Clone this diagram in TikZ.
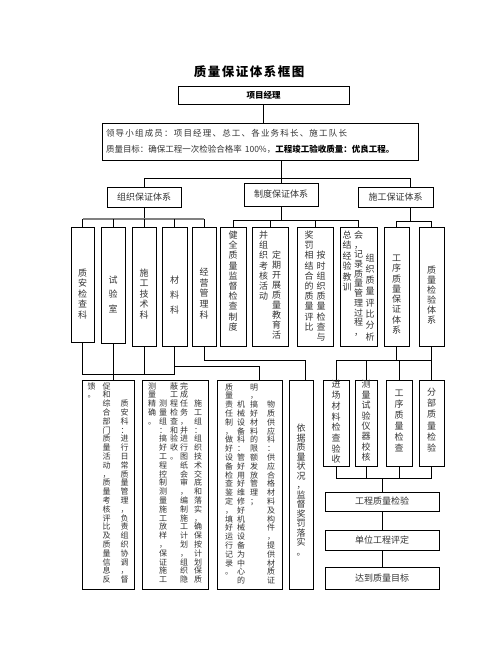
\documentclass[tikz,border=0pt]{standalone}
\usepackage{fontspec}
\setmainfont{Noto Sans CJK SC}
% one column of vertical text, one glyph per cell (~ gives an empty cell)
\newcommand\vstack[2][8.8pt]{\vtop{\baselineskip=#1\lineskiplimit=-\maxdimen\vstacknext#2\relax}}
\def\vstacknext#1{\ifx\relax#1\else\hbox to 1em{\hss\vrule height .88em depth .12em width 0pt#1\hss}\expandafter\vstacknext\fi}
% box content of height #1, text pushed down by #2 from the top
\newcommand\topfill[3]{\vbox to #1pt{\vskip#2pt\hbox{#3}\vss}}

\begin{document}
\begin{tikzpicture}[x=1pt, y=-1pt, line width=.8pt,
    bx/.style 2 args={draw, line width=.9pt, inner sep=0pt,
      minimum width=#1, minimum height=#2, text=black!80},
    fnine/.style={font=\fontsize{9}{11}\selectfont},
    feight/.style={font=\fontsize{8}{10}\selectfont},
  ]
  \useasboundingbox (0,0) rectangle (502,649);

  \node[font=\bfseries\fontsize{12.5}{15}\selectfont\addfontfeature{LetterSpace=12}] (title) at (249,72) {质量保证体系框图};
  \node[bx={171}{18}, font=\bfseries\fontsize{8.5}{10}\selectfont, text=black] (pm) at (263.5,95) {项目经理};
  \node[bx={316}{37}, align=left, text width=308pt, font=\fontsize{8.5}{16}\selectfont] (lead) at (260,141.5)
    {{\addfontfeature{LetterSpace=14}领导小组成员：项目经理、总工、各业务科长、施工队长}\\
     质量目标：确保工程一次检验合格率 100\%，{\color{black}\bfseries 工程竣工验收质量：优良工程。}};

  % three systems
  \node[bx={74}{20}, fnine] (zz) at (144,197) {组织保证体系};
  \node[bx={74}{23}, fnine] (zd) at (281,194.5) {制度保证体系};
  \node[bx={75}{20}, fnine] (sg) at (395.5,197) {施工保证体系};

  % level 4
  \begin{scope}[fnine]
    \node[bx={23}{115}] (zajc) at (82.5,284.5) {\topfill{115}{41.5}{\vstack[10.5pt]{质安检查科}}};
    \node[bx={24}{116}] (sys) at (113,285) {\topfill{116}{48.5}{\vstack[14.5pt]{试验室}}};
    \node[bx={24}{119}] (jsk) at (144,286.5) {\topfill{119}{41.5}{\vstack[10.5pt]{施工技术科}}};
    \node[bx={25}{119}] (clk) at (174.5,286.5) {\topfill{119}{48.5}{\vstack[15pt]{材料科}}};
    \node[bx={24}{119}] (jyk) at (204,286.5) {\topfill{119}{40.5}{\vstack[10.7pt]{经营管理科}}};
    \node[bx={26}{119}] (jq) at (233,286.5) {\topfill{119}{3.5}{\vstack[10.2pt]{健全质量监督检查制度}}};
    \node[bx={36}{119}] (dq) at (270,286.5) {\topfill{119}{3.5}{%
      \vstack[10.2pt]{并组织考核活动}\hskip4pt\vstack[10pt]{~~定期开展质量教育活}}};
    \node[bx={36}{119}] (as) at (315,286.5) {\topfill{119}{3.5}{%
      \vstack[10.2pt]{奖罚相结合的质量评比}\hskip3pt\vstack[10.2pt]{~~按时组织质量检查与}}};
    \node[bx={37}{119}] (zj) at (358.5,286.5) {\topfill{119}{3.5}{%
      \vstack[10.4pt]{总结经验教训}\hskip2.5pt\vstack[9.7pt]{会，记录质量管理过程，}\hskip2.5pt\vstack[11.3pt]{~~组织质量评比分析}}};
    \node[bx={25}{119}] (gx) at (396.5,286.5) {\topfill{119}{26.5}{\vstack[10.3pt]{工序质量保证体系}}};
    \node[bx={25}{119}] (jyt) at (431.5,286.5) {\topfill{119}{38.5}{\vstack[10pt]{质量检验体系}}};
  \end{scope}

  % level 5, left
  \begin{scope}[feight]
    \node[bx={52}{209}] (zak) at (108,484.5) {\topfill{209}{2}{%
      \vstack{馈。}\hskip7pt\vstack{促和综合部门质量活动，质量考核评比及质量信息反}\hskip10pt\vstack{~~质安科：进行日常质量管理，负责组织协调，督}}};
    \node[bx={66}{209}] (sgz) at (175,484.5) {\topfill{209}{2}{%
      \vstack{测量精确。}\hskip3pt\vstack{~~测量组：搞好工程控制测量施工放样，保证施工}\hskip3pt\vstack{蔽工程检查和验收。}\hskip2pt\vstack{完成任务，并进行图纸会审，编制施工计划，组织隐}\hskip6pt\vstack{~~施工组：组织技术交底和落实，确保按计划保质}}};
    \node[bx={65}{209}] (wz) at (250,484.5) {\topfill{209}{3}{%
      \vstack{质量责任制，做好设备检查鉴定，填好运行记录。}\hskip4pt\vstack{~~机械设备科：管好用好维修好机械设备为中心的}\hskip5pt\vstack{明，搞好材料的限额发放管理；}\hskip9pt\vstack{~~物质供应科：供应合格材料及构件，提供材质证}}};
    \node[bx={24}{209}, fnine] (yj) at (301,484.5) {\topfill{209}{44}{\vstack[9.5pt]{依据质量状况，监督奖罚落实。}}};
  \end{scope}

  % level 5, right
  \begin{scope}[fnine]
    \node[bx={26}{86}] (jc) at (336,423) {\topfill{86}{0}{\vstack[10.7pt]{进场材料检查验收}}};
    \node[bx={22}{86}] (cl) at (366,423) {\topfill{86}{0}{\vstack[10.4pt]{测量试验仪器校核}}};
    \node[bx={26}{86}] (gj) at (399,423) {\topfill{86}{8.5}{\vstack[11pt]{工序质量检查}}};
    \node[bx={25}{86}] (fbj) at (431.5,423) {\topfill{86}{7.5}{\vstack[11.2pt]{分部质量检验}}};
    \node[bx={114}{19}] (qj) at (382,501.5) {工程质量检验};
    \node[bx={114}{20}] (dw) at (382,540) {单位工程评定};
    \node[bx={114}{22}] (mb) at (382,578) {达到质量目标};
  \end{scope}

  % connectors, top
  \draw (pm.south) -- (pm.south |- lead.north);
  \draw (zd.north |- lead.south) -- (zd.north);
  \coordinate (b1) at (0,178);
  \coordinate (sgx) at (410,0);
  \draw (zz.north) -- (zz.north |- b1) -- (sgx |- b1) -- (sgx |- sg.north);

  \coordinate (b2) at (0,219);
  \draw (zz.south) -- (zz.south |- b2);
  \draw[gray, line width=1.6pt] (zajc.north |- b2) -- (jyk.north |- b2);
  \foreach \n in {zajc,sys,jsk,clk,jyk} \draw (\n.north) -- (\n.north |- b2);

  \coordinate (b3) at (0,220);
  \draw (zd.south) -- (zd.south |- b3);
  \draw (jq.north |- b3) -- (zj.north |- b3);
  \foreach \n in {jq,dq,as,zj} \draw (\n.north) -- (\n.north |- b3);

  \coordinate (b3r) at (0,221);
  \draw (sgx |- sg.south) -- (sgx |- b3r);
  \draw (gx.north |- b3r) -- (jyt.north |- b3r);
  \foreach \n in {gx,jyt} \draw (\n.north) -- (\n.north |- b3r);

  % connectors, lower left
  \coordinate (b4) at (0,374);
  \coordinate (b5) at (0,366);
  \coordinate (b6) at (0,360);
  \coordinate (wzx) at (259,0);
  \coordinate (yjx) at (305,0);
  \draw (zajc.south) |- (clk.south |- b4) -- (clk.south);
  \draw (jsk.south) -- (jsk.south |- b4);
  \draw (sys.south) -- (sys.south |- zak.north);
  \draw (clk.south |- b5) -| (wzx |- wz.north);
  \draw (jyk.south) |- (yjx |- b6) -- (yjx |- yj.north);

  % connectors, lower right
  \draw (gx.south) -- (gx.south |- b6);
  \draw (jc.north |- b6) -- (jyt.south |- b6);
  \foreach \n in {jc,cl,gj} \draw (\n.north |- b6) -- (\n.north);
  \draw (jyt.south) -- (fbj.north);
  \coordinate (b7) at (0,478);
  \foreach \n in {jc,cl,gj,fbj} \draw (\n.south) -- (\n.south |- b7);
  \draw (jc.south |- b7) -- (fbj.south |- b7);
  \draw (qj.north |- b7) -- (qj.north);
  \draw (qj) -- (dw);
  \draw (dw) -- (mb);
\end{tikzpicture}
\end{document}
